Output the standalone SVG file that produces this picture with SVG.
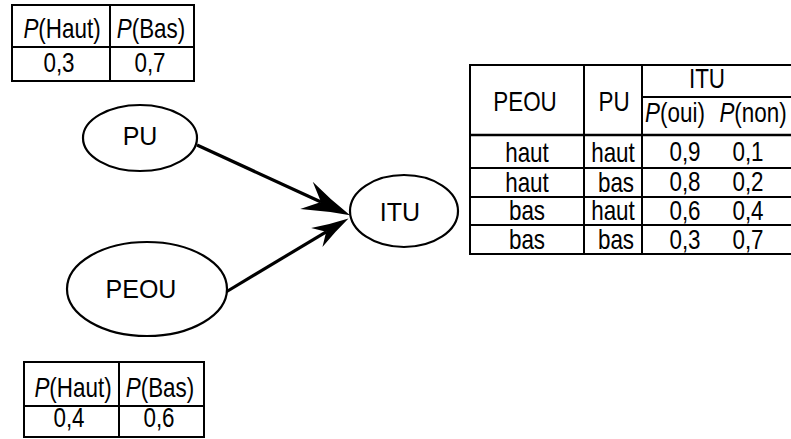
<svg xmlns="http://www.w3.org/2000/svg" width="791" height="439" viewBox="0 0 791 439">
<style>
  .bg { fill: #ffffff; }
  .grid { fill: none; stroke: #000; stroke-width: 2; }
  .node { fill: #fff; stroke: #000; stroke-width: 2.2; }
  .nlab { font-family: "Liberation Sans", Arial, sans-serif; font-size: 25px; fill: #000; text-anchor: middle; }
  .tlab { font-family: "Liberation Sans", Arial, sans-serif; font-size: 27px; fill: #000; text-anchor: middle; }
  .it { font-style: italic; }
  .edge { fill: none; stroke: #000; stroke-width: 3.2; }
</style>
<defs>
  <marker id="arrBig" markerUnits="userSpaceOnUse" orient="auto" markerWidth="48" markerHeight="30" refX="16" refY="15" overflow="visible">
    <path d="M48,15 Q24,9 0,0 L16,15 L0,30 Q24,21 48,15 Z" fill="#000"/>
  </marker>
  <marker id="arrSmall" markerUnits="userSpaceOnUse" orient="auto" markerWidth="37" markerHeight="22" refX="11" refY="11" overflow="visible">
    <path d="M37,11 Q18,6.5 0,0 L11,11 L0,22 Q18,15.5 37,11 Z" fill="#000"/>
  </marker>
</defs>
<rect class="bg" x="0" y="0" width="791" height="439"/>

<g id="table-pu">
  <rect class="grid" x="12" y="5" width="182" height="76"/>
  <line class="grid" x1="12" y1="47" x2="194" y2="47"/>
  <line class="grid" x1="110" y1="5" x2="110" y2="81"/>
  <text class="tlab" transform="matrix(0.83 0 0 1 62 38)"><tspan class="it">P</tspan>(Haut)</text>
  <text class="tlab" transform="matrix(0.83 0 0 1 151 38)"><tspan class="it">P</tspan>(Bas)</text>
  <text class="tlab" transform="matrix(0.83 0 0 1 59 72)">0,3</text>
  <text class="tlab" transform="matrix(0.83 0 0 1 150 72)">0,7</text>
</g>

<g id="table-peou">
  <rect class="grid" x="24" y="362" width="180" height="75"/>
  <line class="grid" x1="24" y1="406" x2="204" y2="406"/>
  <line class="grid" x1="119" y1="362" x2="119" y2="437"/>
  <text class="tlab" transform="matrix(0.83 0 0 1 73 397)"><tspan class="it">P</tspan>(Haut)</text>
  <text class="tlab" transform="matrix(0.83 0 0 1 160 397)"><tspan class="it">P</tspan>(Bas)</text>
  <text class="tlab" transform="matrix(0.83 0 0 1 69 427)">0,4</text>
  <text class="tlab" transform="matrix(0.83 0 0 1 159 427)">0,6</text>
</g>

<g id="table-itu">
  <rect class="grid" x="470" y="65" width="330" height="189"/>
  <line class="grid" x1="584" y1="65" x2="584" y2="254"/>
  <line class="grid" x1="642" y1="65" x2="642" y2="254"/>
  <line class="grid" x1="642" y1="97" x2="800" y2="97"/>
  <line class="grid" x1="470" y1="135" x2="800" y2="135" style="stroke-width:2.5"/>
  <line class="grid" x1="470" y1="168" x2="800" y2="168"/>
  <line class="grid" x1="470" y1="197" x2="800" y2="197"/>
  <line class="grid" x1="470" y1="225" x2="800" y2="225"/>
  <text class="tlab" transform="matrix(0.83 0 0 1 525 111)">PEOU</text>
  <text class="tlab" transform="matrix(0.83 0 0 1 614 111)">PU</text>
  <text class="tlab" transform="matrix(0.83 0 0 1 707 88)">ITU</text>
  <text class="tlab" transform="matrix(0.83 0 0 1 675 122)"><tspan class="it">P</tspan>(oui)</text>
  <text class="tlab" transform="matrix(0.83 0 0 1 753 122)"><tspan class="it">P</tspan>(non)</text>

  <text class="tlab" transform="matrix(0.83 0 0 1 527 162)">haut</text>
  <text class="tlab" transform="matrix(0.83 0 0 1 613 162)">haut</text>
  <text class="tlab" transform="matrix(0.83 0 0 1 685 161)">0,9</text>
  <text class="tlab" transform="matrix(0.83 0 0 1 748 161)">0,1</text>

  <text class="tlab" transform="matrix(0.83 0 0 1 527 192)">haut</text>
  <text class="tlab" transform="matrix(0.83 0 0 1 616 192)">bas</text>
  <text class="tlab" transform="matrix(0.83 0 0 1 685 191)">0,8</text>
  <text class="tlab" transform="matrix(0.83 0 0 1 748 191)">0,2</text>

  <text class="tlab" transform="matrix(0.83 0 0 1 527 220)">bas</text>
  <text class="tlab" transform="matrix(0.83 0 0 1 613 220)">haut</text>
  <text class="tlab" transform="matrix(0.83 0 0 1 685 220)">0,6</text>
  <text class="tlab" transform="matrix(0.83 0 0 1 748 220)">0,4</text>

  <text class="tlab" transform="matrix(0.83 0 0 1 527 249)">bas</text>
  <text class="tlab" transform="matrix(0.83 0 0 1 616 249)">bas</text>
  <text class="tlab" transform="matrix(0.83 0 0 1 685 249)">0,3</text>
  <text class="tlab" transform="matrix(0.83 0 0 1 748 249)">0,7</text>
</g>

<g id="connectors">
  <line class="edge" x1="197" y1="145" x2="321" y2="202" marker-end="url(#arrBig)"/>
  <line class="edge" x1="226" y1="292" x2="326.2" y2="231.8" marker-end="url(#arrSmall)"/>
</g>

<g id="node-pu">
  <ellipse class="node" cx="140" cy="138" rx="57" ry="33"/>
  <text class="nlab" x="140" y="145">PU</text>
</g>

<g id="node-peou">
  <ellipse class="node" cx="147" cy="289" rx="80" ry="47"/>
  <text class="nlab" x="141" y="298">PEOU</text>
</g>

<g id="node-itu">
  <ellipse class="node" cx="404" cy="211" rx="54" ry="36"/>
  <text class="nlab" x="400" y="221">ITU</text>
</g>
</svg>
